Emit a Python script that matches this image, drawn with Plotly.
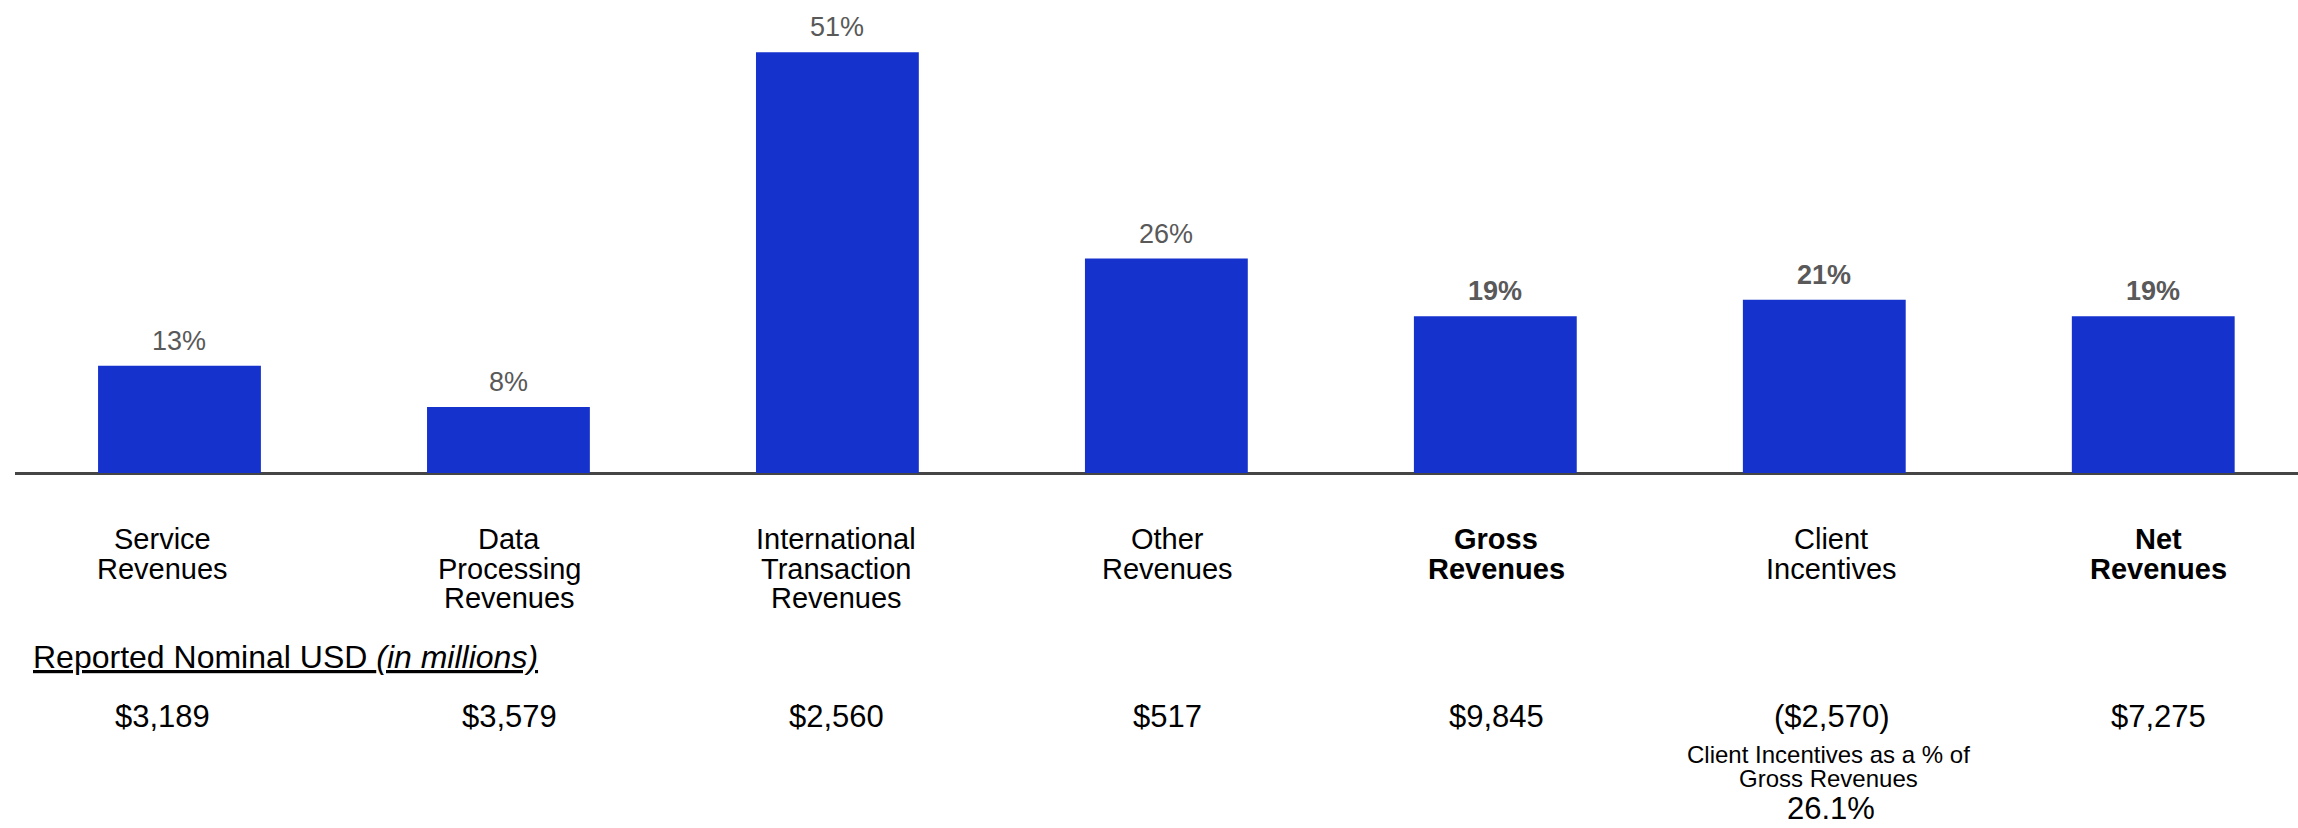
import plotly.graph_objects as go

# Revenue categories, growth rates and reported nominal amounts
categories = [
    "Service Revenues",
    "Data Processing Revenues",
    "International Transaction Revenues",
    "Other Revenues",
    "Gross Revenues",
    "Client Incentives",
    "Net Revenues",
]
label_lines = [
    ["Service", "Revenues"],
    ["Data", "Processing", "Revenues"],
    ["International", "Transaction", "Revenues"],
    ["Other", "Revenues"],
    ["<b>Gross</b>", "<b>Revenues</b>"],
    ["Client", "Incentives"],
    ["<b>Net</b>", "<b>Revenues</b>"],
]
growth_pct = [13, 8, 51, 26, 19, 21, 19]
bold_pct = [False, False, False, False, True, True, True]
usd_millions = [3189, 3579, 2560, 517, 9845, -2570, 7275]
incentive_share_label = ["Client Incentives as a % of", "Gross Revenues"]
incentive_share = 26.1

W, H = 2298, 828
BASE_PX = 473          # pixel row of the zero line
PX_PER_UNIT = 8.25     # vertical pixels per percentage point
FONT = "Arial, 'Liberation Sans', sans-serif"
BAR_COLOR = "#1632CC"
PCT_COLOR = "#595959"

y_max = BASE_PX / PX_PER_UNIT
y_min = -(H - BASE_PX) / PX_PER_UNIT

# text column nudges relative to bar centres (px)
col_shift = [-17, 1, -1, 1, 1, 7, 5]


def py(pixel_row):
    """Convert a pixel row to paper coordinates."""
    return 1 - pixel_row / H


def fmt_usd(v):
    return f"(${abs(v):,})" if v < 0 else f"${v:,}"


fig = go.Figure(
    go.Bar(
        x=categories,
        y=growth_pct,
        width=0.495,
        marker=dict(color=BAR_COLOR, line=dict(width=0)),
        hoverinfo="skip",
    )
)

annotations = []
for i, (cat, pct) in enumerate(zip(categories, growth_pct)):
    txt = f"{pct}%"
    if bold_pct[i]:
        txt = f"<b>{txt}</b>"
    annotations.append(dict(
        x=cat, y=pct, xref="x", yref="y", text=txt, showarrow=False,
        yanchor="middle", yshift=25,
        font=dict(family=FONT, size=27, color=PCT_COLOR),
    ))
    for j, line in enumerate(label_lines[i]):
        annotations.append(dict(
            x=cat, y=py(539 + 29.7 * j), xref="x", yref="paper", text=line,
            showarrow=False, yanchor="middle", xshift=col_shift[i],
            font=dict(family=FONT, size=29, color="#000000"),
        ))
    annotations.append(dict(
        x=cat, y=py(716), xref="x", yref="paper", text=fmt_usd(usd_millions[i]),
        showarrow=False, yanchor="middle", xshift=col_shift[i],
        font=dict(family=FONT, size=31, color="#000000"),
    ))

# note under Client Incentives
ci = categories[5]
for j, line in enumerate(incentive_share_label):
    annotations.append(dict(
        x=ci, y=py(754 + 24 * j), xref="x", yref="paper", text=line,
        showarrow=False, yanchor="middle", xshift=col_shift[5] - 3,
        font=dict(family=FONT, size=24, color="#000000"),
    ))
annotations.append(dict(
    x=ci, y=0, xref="x", yref="paper", text=f"{incentive_share}%",
    showarrow=False, yanchor="bottom", xshift=col_shift[5],
    font=dict(family=FONT, size=31, color="#000000"),
))

# row header
annotations.append(dict(
    x=(31 - 15) / (W - 15), y=py(657), xref="paper", yref="paper",
    text="<u>Reported Nominal USD <i>(in millions)</i></u>",
    showarrow=False, xanchor="left", yanchor="middle",
    font=dict(family=FONT, size=32, color="#000000"),
))

fig.update_layout(
    width=W, height=H,
    margin=dict(l=15, r=0, t=0, b=0, pad=0),
    paper_bgcolor="white", plot_bgcolor="white",
    showlegend=False,
    annotations=annotations,
    xaxis=dict(
        range=[-0.5, 6.44], showticklabels=False, showgrid=False,
        showline=False, zeroline=False, ticks="", fixedrange=True,
    ),
    yaxis=dict(
        range=[y_min, y_max], showticklabels=False, showgrid=False,
        showline=False, zeroline=True, zerolinecolor="#454545",
        zerolinewidth=2.5, ticks="", fixedrange=True,
    ),
)

fig.write_html("out.html", config={"displayModeBar": False})
